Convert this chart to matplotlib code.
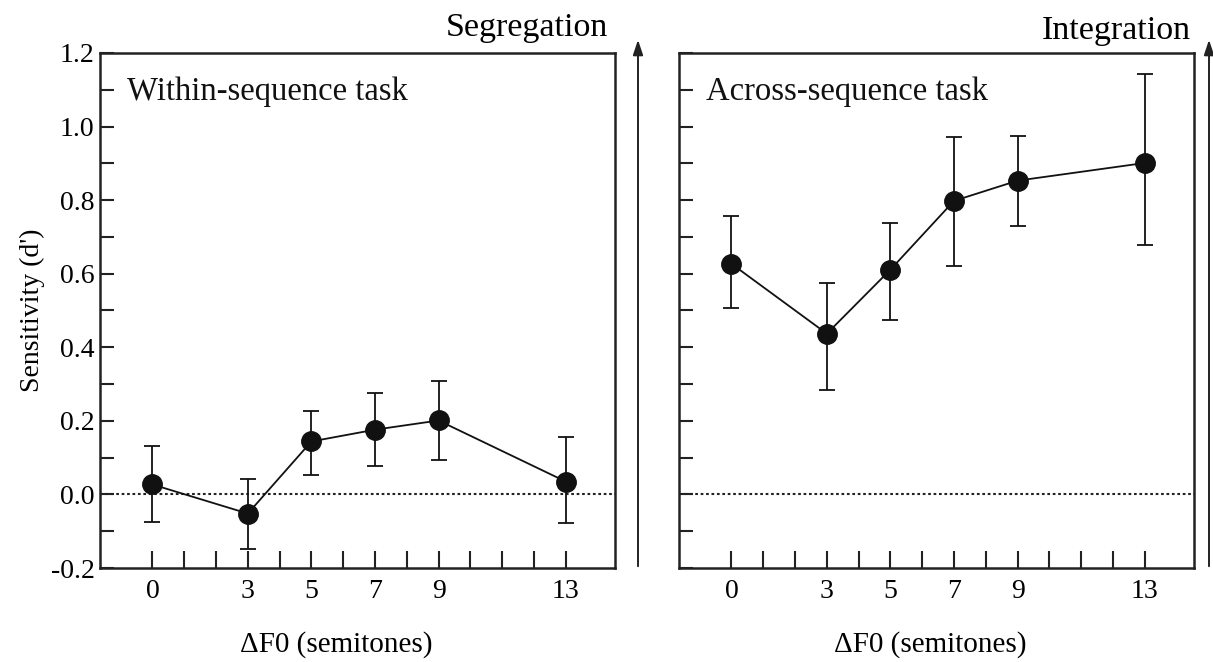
import matplotlib
matplotlib.use("Agg")
import matplotlib.pyplot as plt
from matplotlib.ticker import MultipleLocator, FixedLocator

plt.rcParams['font.family'] = ['Liberation Serif', 'DejaVu Serif']

# semitone separations
df0 = [0, 3, 5, 7, 9, 13]
xtick_labels = ['0', '3', '5', '7', '9', '13']
minor_x = list(range(0, 14))

# within-sequence task (d')
within_mean = [0.027, -0.052, 0.144, 0.176, 0.201, 0.035]
within_lo = [-0.075, -0.149, 0.053, 0.077, 0.094, -0.077]
within_hi = [0.131, 0.043, 0.227, 0.276, 0.307, 0.155]

# across-sequence task (d')
across_mean = [0.627, 0.437, 0.611, 0.798, 0.853, 0.901]
across_lo = [0.508, 0.285, 0.475, 0.622, 0.730, 0.679]
across_hi = [0.757, 0.576, 0.739, 0.972, 0.975, 1.143]

fig = plt.figure(figsize=(12.13, 6.62), dpi=100)
W, H = 1213, 662

def px_box(x0, x1, ytop, ybot):
    return [x0 / W, 1 - ybot / H, (x1 - x0) / W, (ybot - ytop) / H]

ax1 = fig.add_axes(px_box(100, 615, 53, 568))
ax2 = fig.add_axes(px_box(679, 1194, 53, 568))

panels = [
    (ax1, within_mean, within_lo, within_hi, 'Within-sequence task'),
    (ax2, across_mean, across_lo, across_hi, 'Across-sequence task'),
]

for ax, mean, lo, hi, title in panels:
    yerr = [[m - l for m, l in zip(mean, lo)], [h - m for m, h in zip(mean, hi)]]
    ax.errorbar(df0, mean, yerr=yerr, fmt='-o', color='#111111', lw=1.3,
                elinewidth=1.3, capsize=6, capthick=1.3, ms=14, zorder=3)
    ax.axhline(0, color='#222222', lw=1.5, ls=(0, (1.3, 1.3)), zorder=1)
    ax.set_xlim(-1.65, 14.55)
    ax.set_ylim(-0.2, 1.2)
    ax.xaxis.set_major_locator(FixedLocator(df0))
    ax.set_xticklabels(xtick_labels)
    ax.xaxis.set_minor_locator(FixedLocator(minor_x))
    ax.yaxis.set_major_locator(MultipleLocator(0.2))
    ax.yaxis.set_minor_locator(MultipleLocator(0.1))
    ax.tick_params(which='both', direction='in', width=1.5, color='#222222',
                   labelsize=20, top=False, right=False)
    ax.tick_params(axis='x', which='both', length=12, pad=8)
    ax.tick_params(axis='y', which='both', length=10, pad=4)
    for s in ax.spines.values():
        s.set_linewidth(1.8)
        s.set_color('#222222')
    ax.text(0.052, 0.955, title, transform=ax.transAxes, fontsize=23.5,
            ha='left', va='top', color='#111111')

ax1.yaxis.set_major_formatter(plt.FuncFormatter(lambda v, p: f'{v:.1f}' if abs(v) > 1e-9 else '0.0'))
ax2.tick_params(axis='y', labelleft=False)

ax1.set_ylabel("Sensitivity (d')", fontsize=20, labelpad=4)

fig.text(336 / W, 1 - 645 / H, 'ΔF0 (semitones)', fontsize=21, ha='center', va='center')
fig.text(930 / W, 1 - 645 / H, 'ΔF0 (semitones)', fontsize=21, ha='center', va='center')

fig.text(608 / W, 1 - 28 / H, 'Segregation', fontsize=24.5, ha='right', va='center')
fig.text(1191 / W, 1 - 31 / H, 'Integration', fontsize=24.5, ha='right', va='center')

for xa in (638, 1209):
    fig.add_artist(matplotlib.patches.FancyArrowPatch(
        (xa / W, 1 - 569 / H), (xa / W, 1 - 37 / H), transform=fig.transFigure,
        arrowstyle='-|>,head_length=0.6,head_width=0.2', mutation_scale=15,
        lw=1.4, color='#222222'))

fig.savefig('out.png', dpi=100)
